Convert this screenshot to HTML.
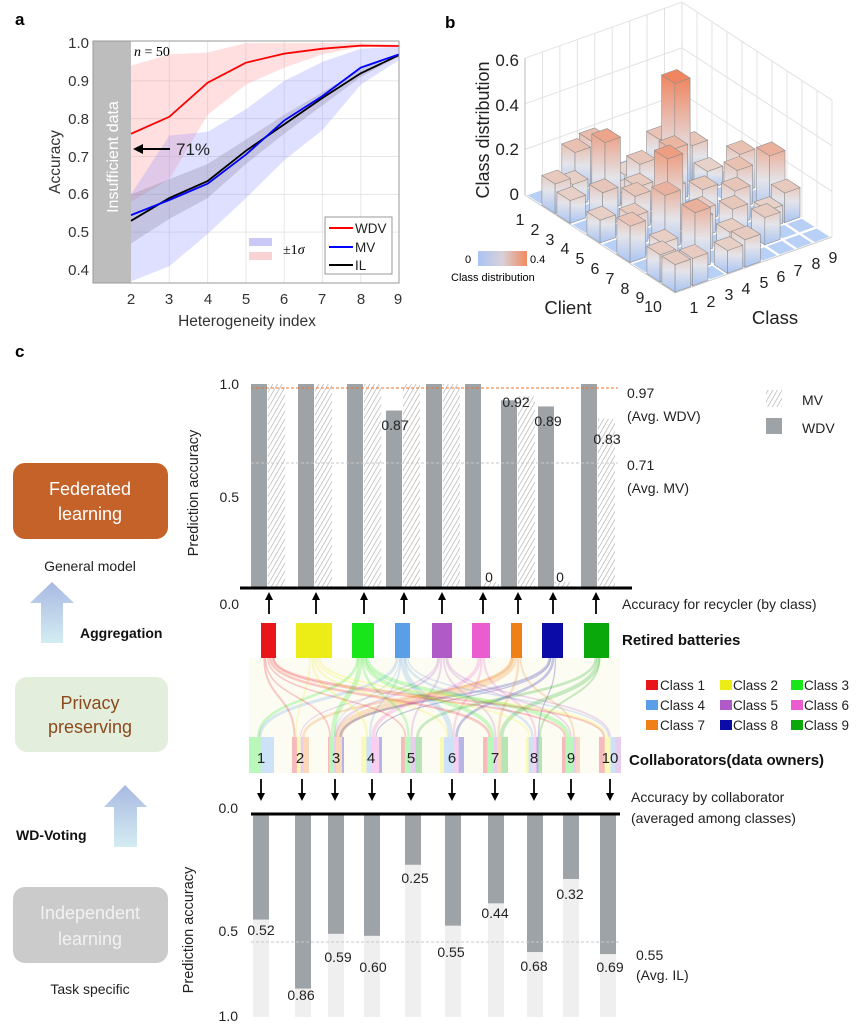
<!DOCTYPE html>
<html><head><meta charset="utf-8">
<style>
html,body{margin:0;padding:0;background:#fff;}
svg{display:block;font-family:"Liberation Sans",Arial,sans-serif;}
</style></head>
<body>
<svg id="s" xmlns="http://www.w3.org/2000/svg" width="864" height="1034" viewBox="0 0 864 1034">
<defs>
<pattern id="hatch" width="4" height="4" patternUnits="userSpaceOnUse" patternTransform="rotate(30)">
<rect width="4" height="4" fill="#fff"/><line x1="0" y1="0" x2="0" y2="4" stroke="#a8a8a8" stroke-width="1.2"/></pattern>
<linearGradient id="cb" x1="0" y1="0" x2="1" y2="0"><stop offset="0" stop-color="#aac4f4"/><stop offset="0.5" stop-color="#d8d0d8"/><stop offset="1" stop-color="#f08a60"/></linearGradient>
<linearGradient id="arr" x1="0" y1="0" x2="0" y2="1"><stop offset="0" stop-color="#a9b9e2"/><stop offset="1" stop-color="#d3edf2"/></linearGradient>
</defs>
<rect width="864" height="1034" fill="#fff"/>

<!-- ========== Panel a ========== -->
<text x="15" y="25" font-size="17" font-weight="bold">a</text>
<g id="aGrid"></g>
<g id="aBands"></g>
<rect x="93" y="41" width="38" height="242" fill="#bdbdbd"/>
<g id="aLines"></g>
<rect x="93" y="41" width="306" height="242" fill="none" stroke="#9a9a9a" stroke-width="1"/>
<text transform="translate(118,157) rotate(-90)" text-anchor="middle" font-size="16" fill="#fff">Insufficient data</text>
<text x="134" y="56" font-size="14" font-family="Liberation Serif,serif"><tspan font-style="italic">n</tspan> = 50</text>
<line x1="170" y1="149" x2="140" y2="149" stroke="#000" stroke-width="2"/>
<polygon points="133,149 143,144 143,154" fill="#000"/>
<text x="176" y="155" font-size="17" fill="#222">71%</text>
<g font-size="15" fill="#333" text-anchor="end">
<text x="89" y="48">1.0</text><text x="89" y="86">0.9</text><text x="89" y="124">0.8</text>
<text x="89" y="162">0.7</text><text x="89" y="199">0.6</text><text x="89" y="237">0.5</text><text x="89" y="275">0.4</text>
</g>
<g font-size="15" fill="#333" text-anchor="middle">
<text x="131" y="304">2</text><text x="169" y="304">3</text><text x="208" y="304">4</text><text x="246" y="304">5</text>
<text x="284" y="304">6</text><text x="322" y="304">7</text><text x="361" y="304">8</text><text x="398" y="304">9</text>
</g>
<text x="247" y="326" font-size="15.5" fill="#333" text-anchor="middle">Heterogeneity index</text>
<text transform="translate(60,162) rotate(-90)" font-size="15.5" fill="#333" text-anchor="middle">Accuracy</text>
<rect x="249" y="238" width="23" height="8" fill="#c9c9f8"/>
<rect x="249" y="252" width="23" height="8" fill="#f9d3d3"/>
<text x="283" y="254" font-size="14" font-family="Liberation Serif,serif">±1<tspan font-style="italic">σ</tspan></text>
<rect x="325" y="217" width="67" height="57" fill="#fff" stroke="#999"/>
<line x1="329" y1="228" x2="353" y2="228" stroke="#ff0000" stroke-width="2"/>
<line x1="329" y1="247" x2="353" y2="247" stroke="#0000ff" stroke-width="2"/>
<line x1="329" y1="265" x2="353" y2="265" stroke="#000" stroke-width="2"/>
<g font-size="13.5" fill="#222"><text x="355" y="233">WDV</text><text x="355" y="252">MV</text><text x="355" y="270">IL</text></g>

<!-- ========== Panel b ========== -->
<text x="445" y="28" font-size="17" font-weight="bold">b</text>
<g id="bWalls"></g>
<g id="bBars"></g>
<g font-size="17" fill="#222" text-anchor="end">
<text x="519" y="66">0.6</text><text x="519" y="111">0.4</text><text x="519" y="155">0.2</text><text x="519" y="200">0</text>
</g>
<text transform="translate(489,130) rotate(-90)" font-size="18" fill="#222" text-anchor="middle">Class distribution</text>
<g font-size="16" fill="#222" text-anchor="middle">
<text x="520" y="225">1</text><text x="535" y="235">2</text><text x="550" y="245">3</text><text x="565" y="254">4</text>
<text x="580" y="264">5</text><text x="595" y="274">6</text><text x="610" y="284">7</text><text x="625" y="294">8</text>
<text x="640" y="303">9</text><text x="653" y="312">10</text>
<text x="694" y="313">1</text><text x="711" y="307">2</text><text x="729" y="300">3</text><text x="746" y="294">4</text>
<text x="764" y="288">5</text><text x="781" y="282">6</text><text x="798" y="276">7</text><text x="816" y="269">8</text><text x="833" y="263">9</text>
</g>
<text x="568" y="314" font-size="18.5" fill="#222" text-anchor="middle">Client</text>
<text x="775" y="324" font-size="18.5" fill="#222" text-anchor="middle">Class</text>
<rect x="478" y="251" width="49" height="15" fill="url(#cb)"/>
<text x="468" y="263" font-size="11" text-anchor="middle">0</text>
<text x="530" y="263" font-size="11">0.4</text>
<text x="451" y="281" font-size="11">Class distribution</text>

<!-- ========== Panel c ========== -->
<text x="15" y="357" font-size="17" font-weight="bold">c</text>
<rect x="13" y="463" width="155" height="76" rx="12" fill="#c4622a"/>
<text x="90" y="495" font-size="18" fill="#fff" text-anchor="middle">Federated</text>
<text x="90" y="520" font-size="18" fill="#fff" text-anchor="middle">learning</text>
<text x="90" y="571" font-size="14" fill="#222" text-anchor="middle">General model</text>
<polygon points="52,582 74,603 63,603 63,643 41,643 41,603 30,603" fill="url(#arr)"/>
<text x="80" y="638" font-size="14" font-weight="bold" fill="#111">Aggregation</text>
<rect x="15" y="677" width="153" height="75" rx="12" fill="#e3efdc"/>
<text x="90" y="709" font-size="18" fill="#8b4a1e" text-anchor="middle">Privacy</text>
<text x="90" y="733" font-size="18" fill="#8b4a1e" text-anchor="middle">preserving</text>
<polygon points="125,785 147,807 137,807 137,847 114,847 114,807 104,807" fill="url(#arr)"/>
<text x="16" y="840" font-size="14" font-weight="bold" fill="#111">WD-Voting</text>
<rect x="13" y="887" width="155" height="76" rx="12" fill="#cbcbcb"/>
<text x="90" y="919" font-size="18" fill="#f2f2f2" text-anchor="middle">Independent</text>
<text x="90" y="945" font-size="18" fill="#f2f2f2" text-anchor="middle">learning</text>
<text x="90" y="994" font-size="14" fill="#222" text-anchor="middle">Task specific</text>

<!-- top chart -->
<g id="cTop"></g>
<line x1="251" y1="388" x2="618" y2="388" stroke="#e8762a" stroke-width="1" stroke-dasharray="3,2"/>
<line x1="251" y1="463" x2="618" y2="463" stroke="#c8c8c8" stroke-width="1" stroke-dasharray="3,2"/>
<line x1="240" y1="588" x2="632" y2="588" stroke="#000" stroke-width="3"/>
<g font-size="14" fill="#222" text-anchor="end">
<text x="239" y="389">1.0</text><text x="239" y="502">0.5</text><text x="239" y="609">0.0</text>
</g>
<text transform="translate(198,493) rotate(-90)" font-size="14.5" fill="#222" text-anchor="middle">Prediction accuracy</text>
<g font-size="14" fill="#222" text-anchor="middle">
<text x="395" y="430">0.87</text><text x="516" y="407">0.92</text><text x="548" y="426">0.89</text><text x="607" y="444">0.83</text>
<text x="489" y="582">0</text><text x="560" y="582">0</text>
</g>
<g font-size="14" fill="#222">
<text x="627" y="398">0.97</text><text x="627" y="421">(Avg. WDV)</text>
<text x="627" y="470">0.71</text><text x="627" y="493">(Avg. MV)</text>
</g>
<rect x="766" y="390" width="16" height="17" fill="url(#hatch)"/>
<text x="802" y="405" font-size="14" fill="#222">MV</text>
<rect x="766" y="418" width="16" height="16" fill="#9ea3a8"/>
<text x="802" y="433" font-size="14" fill="#222">WDV</text>
<g id="cArrUp"></g>
<text x="622" y="609" font-size="14" fill="#222">Accuracy for recycler (by class)</text>

<!-- flows -->
<rect x="249" y="658" width="371" height="115" fill="#fdfcf3"/>
<g id="cFlow"></g>
<g id="cBoxes"></g>
<g id="cColl"></g>
<g font-size="15" fill="#222" text-anchor="middle">
<text x="261" y="763">1</text><text x="300" y="763">2</text><text x="336" y="763">3</text><text x="371" y="763">4</text>
<text x="411" y="763">5</text><text x="452" y="763">6</text><text x="495" y="763">7</text><text x="534" y="763">8</text>
<text x="571" y="763">9</text><text x="610" y="763">10</text>
</g>
<text x="622" y="645" font-size="15" font-weight="bold" fill="#111">Retired batteries</text>
<text x="629" y="765" font-size="15" font-weight="bold" fill="#111">Collaborators(data owners)</text>
<g id="cLeg"></g>
<g font-size="13.5" fill="#222">
<text x="660" y="690">Class 1</text><text x="733" y="690">Class 2</text><text x="804" y="690">Class 3</text>
<text x="660" y="710">Class 4</text><text x="733" y="710">Class 5</text><text x="804" y="710">Class 6</text>
<text x="660" y="730">Class 7</text><text x="733" y="730">Class 8</text><text x="804" y="730">Class 9</text>
</g>
<g id="cArrDn"></g>
<text x="631" y="802" font-size="14" fill="#222">Accuracy by collaborator</text>
<text x="631" y="823" font-size="14" fill="#222">(averaged among classes)</text>

<!-- bottom chart -->
<g id="cBot"></g>
<line x1="251" y1="942" x2="620" y2="942" stroke="#c8c8c8" stroke-width="1" stroke-dasharray="3,2"/>
<line x1="251" y1="814" x2="620" y2="814" stroke="#000" stroke-width="3"/>
<g font-size="14" fill="#222" text-anchor="end">
<text x="238" y="813">0.0</text><text x="238" y="936">0.5</text><text x="238" y="1021">1.0</text>
</g>
<text transform="translate(193,930) rotate(-90)" font-size="14.5" fill="#222" text-anchor="middle">Prediction accuracy</text>
<g font-size="14" fill="#222" text-anchor="middle">
<text x="261" y="935">0.52</text><text x="301" y="1000">0.86</text><text x="338" y="962">0.59</text><text x="373" y="972">0.60</text>
<text x="415" y="883">0.25</text><text x="451" y="957">0.55</text><text x="495" y="918">0.44</text><text x="534" y="971">0.68</text>
<text x="570" y="899">0.32</text><text x="610" y="972">0.69</text>
</g>
<text x="636" y="960" font-size="14" fill="#222">0.55</text>
<text x="636" y="980" font-size="14" fill="#222">(Avg. IL)</text>
</svg>

<script>
(function(){
const NS='http://www.w3.org/2000/svg';
function el(tag,a,p){const e=document.createElementNS(NS,tag);for(const k in a)e.setAttribute(k,a[k]);p.appendChild(e);return e;}
const $=id=>document.getElementById(id);
const defs=document.querySelector('defs');

/* ---- panel a ---- */
const X=k=>131+(k-2)*38.3, Y=v=>43+(1-v)*378.3;
const ks=[2,3,4,5,6,7,8,9];
for(let k=3;k<=8;k++) el('line',{x1:X(k),y1:41,x2:X(k),y2:283,stroke:'#e6e6e6'},$('aGrid'));
[0.5,0.6,0.7,0.8,0.9].forEach(v=>el('line',{x1:93,y1:Y(v),x2:399,y2:Y(v),stroke:'#e6e6e6'},$('aGrid')));
function band(up,lo,fill){let pts=ks.map((k,i)=>X(k)+','+Y(up[i]));pts=pts.concat(ks.slice().reverse().map((k,i)=>X(k)+','+Y(lo[7-i])));el('polygon',{points:pts.join(' '),fill:fill},$('aBands'));}
band([.94,.97,.975,1,1,1,1,.995],[.58,.64,.81,.89,.935,.97,.99,.99],'rgba(255,140,140,0.28)');
band([.60,.755,.765,.825,.90,.95,.985,.99],[.37,.41,.495,.59,.69,.77,.89,.955],'rgba(140,140,255,0.28)');
band([.60,.64,.68,.745,.81,.87,.93,.972],[.47,.535,.59,.68,.76,.835,.91,.965],'rgba(90,90,110,0.2)');
function line(v,c){el('polyline',{points:ks.map((k,i)=>X(k)+','+Y(v[i])).join(' '),fill:'none',stroke:c,'stroke-width':1.8},$('aLines'));}
line([.53,.59,.635,.715,.785,.855,.92,.968],'#000');
line([.545,.585,.628,.705,.795,.86,.935,.97],'#0000ff');
line([.76,.805,.895,.948,.972,.985,.993,.992],'#ff0000');

/* ---- panel b ---- */
const P=(c,k,z)=>[525+c*15+k*17.44, 195+c*9.8-k*6.22-z*228];
const pp=a=>a.map(p=>p[0].toFixed(1)+','+p[1].toFixed(1)).join(' ');
const W=$('bWalls');
el('polygon',{points:pp([P(0,0,0),P(0,9,0),P(0,9,.6),P(0,0,.6)]),fill:'#fff',stroke:'none'},W);
for(let k=0;k<=9;k++){const a=P(0,k,0),b=P(0,k,.6);el('line',{x1:a[0],y1:a[1],x2:b[0],y2:b[1],stroke:'#e2e2e2'},W);}
for(let c=0;c<=10;c++){const a=P(c,9,0),b=P(c,9,.6);el('line',{x1:a[0],y1:a[1],x2:b[0],y2:b[1],stroke:'#e2e2e2'},W);}
[0.2,0.4,0.6].forEach(z=>{let a=P(0,0,z),b=P(0,9,z),c=P(10,9,z);el('polyline',{points:pp([a,b,c]),fill:'none',stroke:'#e2e2e2'},W);});
{let a=P(0,0,0),b=P(0,0,.6);el('line',{x1:a[0],y1:a[1],x2:b[0],y2:b[1],stroke:'#bbb'},W);}
{let a=P(0,0,0),b=P(10,0,0),c=P(10,9,0);el('polyline',{points:pp([a,b,c]),fill:'none',stroke:'#ccc'},W);}
const H=[
[0,0,.17,.19,0,0,0,0,0],
[.13,.1,0,0,.06,0,.16,0,0],
[.1,0,.3,.05,.15,0,.45,.15,0],
[0,.15,0,.12,0,.23,0,.08,0],
[.1,0,.15,0,.13,0,0,0,.17],
[0,.13,0,.33,0,.14,0,.17,0],
[.16,0,.24,0,.12,0,.15,0,.25],
[0,.1,0,.15,0,.14,0,.08,.13],
[.12,0,.25,0,.11,0,.12,0,0],
[.12,.12,0,.1,.12,0,0,0,0]];
const B=$('bBars');
function mix(a,b,t){const h=s=>[1,3,5].map(i=>parseInt(s.substr(i,2),16));const A=h(a),C=h(b);return 'rgb('+A.map((v,i)=>Math.round(v+(C[i]-v)*t)).join(',')+')';}
for(let i=0;i<10;i++)for(let j=0;j<9;j++){if(H[i][j]===0){el('polygon',{points:pp([P(i+.08,j+.08,0),P(i+.92,j+.08,0),P(i+.92,j+.92,0),P(i+.08,j+.92,0)]),fill:'#b8cff6'},B);}}
const cells=[];for(let i=0;i<10;i++)for(let j=0;j<9;j++)if(H[i][j]>0)cells.push([i,j]);
cells.sort((a,b)=>(a[0]+8-a[1])-(b[0]+8-b[1]));
let gid=0;
cells.forEach(([i,j])=>{
 const z=H[i][j],c0=i+.06,c1=i+.94,k0=j+.06,k1=j+.94;
 const t=Math.min(1,Math.pow(z/0.42,1.3));
 const top=mix('#e6dcd8','#ef8660',t);
 const id='g'+(gid++);
 const lg=el('linearGradient',{id:id,x1:0,y1:0,x2:0,y2:1},defs);
 el('stop',{offset:0,'stop-color':top},lg);
 el('stop',{offset:Math.min(0.7,0.25+z),'stop-color':'#e4e4ea'},lg);
 el('stop',{offset:1,'stop-color':'#a9c4f3'},lg);
 el('polygon',{points:pp([P(c0,k0,0),P(c1,k0,0),P(c1,k0,z),P(c0,k0,z)]),fill:'url(#'+id+')',stroke:'#8f8f8f','stroke-width':.6},B);
 el('polygon',{points:pp([P(c1,k0,0),P(c1,k1,0),P(c1,k1,z),P(c1,k0,z)]),fill:'url(#'+id+')',stroke:'#8f8f8f','stroke-width':.6},B);
 el('polygon',{points:pp([P(c0,k0,z),P(c1,k0,z),P(c1,k1,z),P(c0,k1,z)]),fill:top,stroke:'#8f8f8f','stroke-width':.6},B);
});

/* ---- panel c top ---- */
const Yt=v=>588-v*204;
const wx=[251,298,347,386,426,465,501,538,581];
const wv=[1,1,1,.87,1,1,.92,.89,1], mv=[1,1,1,1,1,.03,.94,.03,.83];
const T=$('cTop');
wx.forEach((x,i)=>{
 el('rect',{x:x,y:Yt(wv[i]),width:16,height:588-Yt(wv[i]),fill:'#9ea3a8'},T);
 el('rect',{x:x+17,y:Yt(mv[i]),width:17,height:588-Yt(mv[i]),fill:'url(#hatch)'},T);
});
[269,316,364,404,442,483,518,553,596].forEach(x=>{
 el('line',{x1:x,y1:614,x2:x,y2:599,stroke:'#000','stroke-width':1.8},$('cArrUp'));
 el('polygon',{points:(x-4)+',600 '+(x+4)+',600 '+x+',592',fill:'#000'},$('cArrUp'));
});
const cols=['#e8161b','#ecec16','#19e619','#5b9ee8','#b05ac8','#ea5ccf','#ef7f17','#0b0ba8','#0aa80a'];
const bx=[[261,276],[296,332],[352,374],[395,410],[432,452],[472,490],[511,522],[542,563],[584,609]];
const cx=[[249,274],[292,309],[328,344],[361,382],[401,422],[440,464],[483,508],[526,542],[562,580],[599,621]];
const F=$('cFlow');
for(let j=0;j<10;j++)for(let i=0;i<9;i++){const h=H[j][i];if(!h)continue;
 const x1=(bx[i][0]+bx[i][1])/2+((j-4.5)*1.2), x2=(cx[j][0]+cx[j][1])/2+((i-4)*1.5);
 el('path',{d:`M${x1} 658 C${x1} 700 ${x2} 695 ${x2} 737`,fill:'none',stroke:cols[i],'stroke-opacity':.22,'stroke-width':Math.max(1.2,h*16)},F);
}
bx.forEach((b,i)=>el('rect',{x:b[0],y:623,width:b[1]-b[0],height:35,fill:cols[i]},$('cBoxes')));
const C=$('cColl');
cx.forEach((b,j)=>{
 const w=b[1]-b[0];let tot=H[j].reduce((a,b)=>a+b,0),x=b[0];
 el('rect',{x:b[0],y:737,width:w,height:36,fill:'#fff'},C);
 H[j].forEach((h,i)=>{if(!h)return;const ww=w*h/tot;el('rect',{x:x,y:737,width:ww,height:36,fill:cols[i],'fill-opacity':.3},C);x+=ww;});
});
const L=$('cLeg');
[[646,683],[720,683],[791,683],[646,703],[720,703],[791,703],[646,723],[720,723],[791,723]].forEach((p,i)=>el('rect',{x:p[0],y:p[1]-3,width:12,height:10,fill:cols[i]},L));
[261,302,335,372,411,452,495,534,571,610].forEach(x=>{
 el('line',{x1:x,y1:779,x2:x,y2:794,stroke:'#000','stroke-width':1.8},$('cArrDn'));
 el('polygon',{points:(x-4)+',793 '+(x+4)+',793 '+x+',801',fill:'#000'},$('cArrDn'));
});
const bbx=[253,295,328,364,405,445,488,527,563,600];
const bv=[.52,.86,.59,.60,.25,.55,.44,.68,.32,.69];
bbx.forEach((x,i)=>{
 el('rect',{x:x,y:814,width:16,height:203,fill:'#efefef'},$('cBot'));
 el('rect',{x:x,y:814,width:16,height:bv[i]*203,fill:'#9ea3a8'},$('cBot'));
});
})();
</script>
</body></html>
